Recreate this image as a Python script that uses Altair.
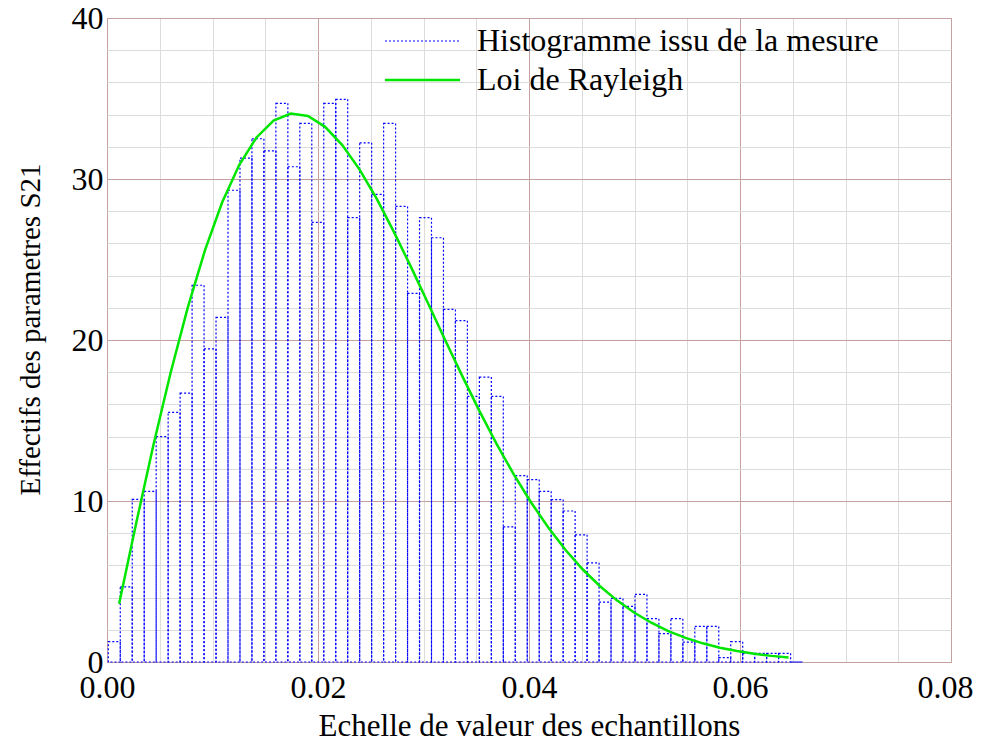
import altair as alt
import pandas as pd

# ---------------- data ----------------
series_names = ["Histogramme issu de la mesure", "Loi de Rayleigh"]

bin_first_edge = 0.000123
bin_width = 0.0011346
hist_heights = [
    1.26, 4.67, 10.1, 10.6, 14.0, 15.5, 16.7, 23.4, 19.45, 21.4,
    29.3, 31.3, 32.5, 31.75, 34.7, 30.76, 33.45, 27.3, 34.7, 34.95,
    27.6, 32.25, 29.05, 33.45, 28.3, 22.9, 27.6, 26.35, 21.9, 21.2,
    16.5, 17.7, 16.5, 8.39, 11.58, 11.33, 10.6, 10.09, 9.38, 7.9,
    6.16, 3.72, 3.95, 3.45, 4.2, 2.69, 1.76, 2.69, 1.24, 2.21,
    2.21, 0.27, 1.26, 0.54, 0.54, 0.54, 0.54, 0.0,
]

curve_x = [
    0.00115, 0.00278, 0.00440, 0.00603, 0.00766, 0.00929, 0.01091, 0.01254,
    0.01417, 0.01579, 0.01742, 0.01905, 0.02067, 0.02230, 0.02393, 0.02556,
    0.02718, 0.02881, 0.03044, 0.03206, 0.03369, 0.03532, 0.03694, 0.03857,
    0.04020, 0.04183, 0.04345, 0.04508, 0.04671, 0.04833, 0.04996, 0.05159,
    0.05321, 0.05484, 0.05647, 0.05810, 0.05972, 0.06135, 0.06298, 0.06460,
]
curve_y = [
    3.62, 8.66, 13.48, 17.97, 22.03, 25.58, 28.54, 30.88, 32.58, 33.63,
    34.06, 33.91, 33.24, 32.11, 30.60, 28.78, 26.73, 24.54, 22.27, 19.98,
    17.74, 15.57, 13.53, 11.64, 9.91, 8.35, 6.97, 5.76, 4.72, 3.83,
    3.07, 2.44, 1.92, 1.50, 1.16, 0.89, 0.68, 0.51, 0.38, 0.28,
]

x_tick_values = [0.0, 0.005, 0.01, 0.015, 0.02, 0.025, 0.03, 0.035, 0.04,
                 0.045, 0.05, 0.055, 0.06, 0.065, 0.07, 0.075, 0.08]
y_tick_values = [0, 2, 4, 6, 8, 10, 12, 14, 16, 18, 20, 22, 24, 26, 28, 30,
                 32, 34, 36, 38, 40]

x_title = "Echelle de valeur des echantillons"
y_title = "Effectifs des parametres S21"

# ---------------- tables ----------------
edges = [bin_first_edge + i * bin_width for i in range(len(hist_heights) + 1)]
hist_df = pd.DataFrame({
    "x0": edges[:-1],
    "x1": edges[1:],
    "y": hist_heights,
    "serie": series_names[0],
})
curve_df = pd.DataFrame({"x": curve_x, "y": curve_y, "serie": series_names[1]})
legend_df = pd.DataFrame({"serie": series_names})

FONT = "Liberation Serif"
MAJOR = "#c4a0a0"
MINOR = "#dcdcdc"
TICK_FS = 32
LEGEND_FS = 32

x_scale = alt.Scale(domain=[0, 0.08], nice=False, zero=False)
y_scale = alt.Scale(domain=[0, 40], nice=False)
stroke_scale = alt.Scale(domain=series_names, range=["#0000ff", "#00e600"])

x_axis = alt.Axis(
    values=x_tick_values,
    tickCount=len(x_tick_values) + 5,
    labelExpr="round(datum.value*200) % 4 == 0 ? format(datum.value, '.2f') : ''",
    gridColor={"condition": {"test": "round(datum.value*200) % 4 == 0", "value": MAJOR},
               "value": MINOR},
    gridOpacity=1,
    gridWidth=1,
    domain=False,
    ticks=False,
    labelFont=FONT, labelFontSize=TICK_FS, labelColor="black", labelPadding=10,
    labelOffset={"condition": {"test": "datum.value > 0.079", "value": -6}, "value": 0},
    labelFlush=False, labelOverlap=False,
    title=x_title, titleFont=FONT, titleFontSize=31, titleFontWeight="normal",
    titleColor="black", titlePadding=8,
)
y_axis = alt.Axis(
    values=y_tick_values,
    tickCount=len(y_tick_values) + 5,
    labelExpr="datum.value % 10 == 0 ? datum.label : ''",
    gridColor={"condition": {"test": "datum.value % 10 == 0", "value": MAJOR},
               "value": MINOR},
    gridOpacity=1,
    gridWidth=1,
    domain=False,
    ticks=False,
    labelFont=FONT, labelFontSize=TICK_FS, labelColor="black", labelPadding=4,
    labelFlush=False, labelOverlap=False,
    title=y_title, titleFont=FONT, titleFontSize=29, titleFontWeight="normal",
    titleColor="black", titlePadding=26, titleY=311,
)

hist = alt.Chart(hist_df).mark_rect(fillOpacity=0, strokeWidth=1.2, strokeDash=[2, 2]).encode(
    x=alt.X("x0:Q", scale=x_scale, axis=x_axis),
    x2="x1:Q",
    y=alt.Y("y:Q", scale=y_scale, axis=y_axis),
    y2=alt.datum(0),
    stroke=alt.Stroke("serie:N", scale=stroke_scale, legend=None),
)

curve = alt.Chart(curve_df).mark_line(strokeWidth=2.5).encode(
    x=alt.X("x:Q", scale=x_scale),
    y=alt.Y("y:Q", scale=y_scale),
    stroke=alt.Stroke("serie:N", scale=stroke_scale, legend=None),
)

# ---------------- legend (inside the plot, upper middle) ----------------
leg_layers = []
row_y = [23, 62]
for i, name in enumerate(series_names):
    sub = alt.Chart(legend_df).transform_filter(alt.datum.serie == name)
    line_kw = {"strokeWidth": 1.2, "strokeDash": [2, 2]} if i == 0 else {"strokeWidth": 2.5}
    leg_layers.append(
        sub.mark_rule(**line_kw).encode(
            x=alt.value(278), x2=alt.value(353), y=alt.value(row_y[i]),
            stroke=alt.Stroke("serie:N", scale=stroke_scale, legend=None),
        )
    )
    leg_layers.append(
        sub.mark_text(align="left", baseline="middle", font=FONT, fontSize=LEGEND_FS,
                      color="black").encode(
            x=alt.value(370), y=alt.value(row_y[i]), text="serie:N",
        )
    )

chart = alt.layer(hist, curve, *leg_layers).properties(
    width=844,
    height=644,
    padding={"left": 99, "top": 10, "right": 23, "bottom": 78},
    autosize=alt.AutoSizeParams(type="none"),
    background="white",
).configure_view(stroke=MAJOR, strokeWidth=1)

chart.save("out.html", embed_options={"renderer": "svg", "actions": False})
